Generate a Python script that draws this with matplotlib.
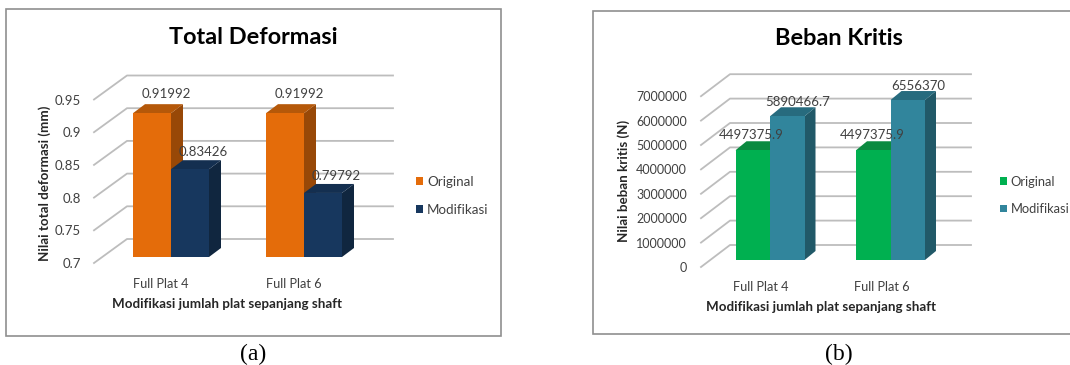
import numpy as np
import matplotlib
matplotlib.use('Agg')
import matplotlib.pyplot as plt
from matplotlib.patches import Polygon, Rectangle, Patch
from matplotlib.transforms import Affine2D

categories = ['Full Plat 4', 'Full Plat 6']
series_names = ['Original', 'Modifikasi']
x_title = 'Modifikasi jumlah plat sepanjang shaft'

deform_original = [0.91992, 0.91992]
deform_modif = [0.83426, 0.79792]
deform_ticks = [0.7, 0.75, 0.8, 0.85, 0.9, 0.95]
deform_ticklabels = ['0.7', '0.75', '0.8', '0.85', '0.9', '0.95']
deform_labels = [['0.91992', '0.91992'], ['0.83426', '0.79792']]

beban_original = [4497375.9, 4497375.9]
beban_modif = [5890466.7, 6556370]
beban_ticks = [0, 1000000, 2000000, 3000000, 4000000, 5000000, 6000000, 7000000]
beban_ticklabels = ['0', '1000000', '2000000', '3000000', '4000000', '5000000', '6000000', '7000000']
beban_labels = [['4497375.9', '4497375.9'], ['5890466.7', '6556370']]

W, H = 1070, 365
FONT = 'Lato'
TXT = '#404040'

plt.rcParams['font.family'] = FONT
fig = plt.figure(figsize=(W / 100, H / 100), dpi=100, facecolor='white')
# pixel coordinates, origin top left
px = Affine2D().scale(1 / W, -1 / H).translate(0, 1) + fig.transFigure


def draw_panel(values, ticks, ticklabels, labels, title, ylabel, colors, box, g):
    # box: frame of the chart in pixels, g: geometry of the 3d look in pixels
    fig.add_artist(Rectangle((box[0], box[1]), box[2] - box[0], box[3] - box[1], transform=px,
                             fc='white', ec='#8f8f8f', lw=1.2, zorder=-1))

    # axes sit on the front plane of the bars
    left, right, base = g['left'], g['right'], g['base']
    per_tick = g['tick_px']
    step = ticks[1] - ticks[0]
    top = base - per_tick * (len(ticks) - 1) - 30
    ax = fig.add_axes([left / W, 1 - base / H, (right - left) / W, (base - top) / H])
    ux = 1 / g['cat_px']
    uy = step / per_tick
    ax.set_xlim((left - g['x0']) * ux, (right - g['x0']) * ux)
    ax.set_ylim(ticks[0], ticks[0] + (base - top) * uy)
    ax.patch.set_visible(False)
    for s in ax.spines.values():
        s.set_visible(False)

    # gridlines: wall then the slanted floor part
    xl, xr = ax.get_xlim()
    for t in ticks:
        ax.plot([xl, xl + g['wall_dx'] * ux, xr],
                [t - g['front_dy'] * uy, t + g['wall_dy'] * uy, t + g['wall_dy'] * uy],
                color='#bdbdbd', lw=1.3, zorder=1, clip_on=False)

    x = np.arange(len(categories))
    w = g['bar_px'] * ux
    dx, dy = g['dx'] * ux, g['dy'] * uy
    for j, vals in enumerate(values):
        col = colors[j]
        bx = x + (j - 1) * w
        z = 2 + j
        ax.bar(bx, np.array(vals) - ticks[0], bottom=ticks[0], width=w, align='edge',
               color=col[0], lw=0, zorder=z + 0.5)
        for b, v, lab in zip(bx, vals, labels[j]):
            ax.add_patch(Polygon([(b + w, ticks[0]), (b + w + dx, ticks[0] + dy), (b + w + dx, v + dy), (b + w, v)],
                                 fc=col[2], ec='none', zorder=z, clip_on=False))
            ax.add_patch(Polygon([(b, v), (b + dx, v + dy), (b + w + dx, v + dy), (b + w, v)],
                                 fc=col[1], ec='none', zorder=z, clip_on=False))
            ax.annotate(lab, (b + w / 2, v), xytext=g['lab_off'][j], textcoords='offset pixels',
                        ha='center', va='center', fontsize=g['lab_fs'], color=TXT, zorder=6)

    ax.set_yticks(ticks)
    ax.set_yticklabels(ticklabels)
    ax.tick_params(axis='y', length=0, pad=g['ypad'], labelsize=g['tick_fs'], labelcolor=TXT)
    for lb in ax.get_yticklabels():
        lb.set_transform(lb.get_transform() + Affine2D().translate(0, -g['front_dy']))
    ax.set_xticks(x)
    ax.set_xticklabels(categories)
    ax.tick_params(axis='x', length=0, pad=g['xpad'], labelsize=g['cat_fs'], labelcolor=TXT)
    for lb in ax.get_xticklabels():
        lb.set_transform(lb.get_transform() + Affine2D().translate(g['xlab_dx'], 0))

    ax.set_xlabel(x_title, fontsize=g['axis_fs'], fontweight='bold', color='#262626', va='center')
    ax.xaxis.set_label_coords(g['xlabel'][0], g['xlabel'][1], transform=px)
    ax.set_ylabel(ylabel, fontsize=g['axis_fs'], fontweight='bold', color='#262626', va='center')
    ax.yaxis.set_label_coords(g['ylabel'][0], g['ylabel'][1], transform=px)
    ax.set_title(title, fontsize=g['title_fs'], fontweight='bold', color='black', va='center', pad=0,
                 x=(g['title'][0] - left) / (right - left), y=(base - g['title'][1]) / (base - top))

    handles = [Patch(fc=c[0], lw=0) for c in colors]
    fig.legend(handles, series_names, loc='center left', bbox_to_anchor=g['legend'],
               bbox_transform=px, frameon=False, fontsize=g['leg_fs'], labelcolor=TXT,
               handlelength=0.52, handleheight=0.52, handletextpad=0.3, labelspacing=1.2,
               borderpad=0, borderaxespad=0)
    return ax


orange = ('#E46C0A', '#B55809', '#984807')
navy = ('#17375E', '#142F50', '#10263F')
green = ('#00B050', '#0A8A40', '#08773A')
teal = ('#31859C', '#276B7E', '#215968')

geom_a = dict(left=94, right=393, base=257, x0=171, cat_px=133, bar_px=38, tick_px=32.7,
              wall_dx=33, wall_dy=18, front_dy=6, dx=12, dy=9, lab_off=[(14, 19), (13, 17)],
              lab_fs=9.5, tick_fs=9.5, cat_fs=9.15, axis_fs=9.6, title_fs=16.9, leg_fs=9.6,
              ypad=9.5, xpad=15, xlab_dx=-10, xlabel=(227, 304), ylabel=(45, 183), title=(253, 38),
              legend=(416, 195.5))
geom_b = dict(left=701, right=971, base=260, x0=770, cat_px=120.5, bar_px=34.5, tick_px=24.4,
              wall_dx=29, wall_dy=15, front_dy=7, dx=11, dy=9, lab_off=[(-1, 15), (10, 14)],
              lab_fs=9.5, tick_fs=9.0, cat_fs=9.15, axis_fs=9.6, title_fs=16.9, leg_fs=9.3,
              ypad=10, xpad=15, xlab_dx=-9, xlabel=(821, 307), ylabel=(624, 181), title=(839, 39),
              legend=(1000, 195.5))

draw_panel([deform_original, deform_modif], deform_ticks, deform_ticklabels, deform_labels,
           'Total Deformasi', 'Nilai total deformasi (mm)', [orange, navy], (5.5, 9, 501, 336), geom_a)
draw_panel([beban_original, beban_modif], beban_ticks, beban_ticklabels, beban_labels,
           'Beban Kritis', 'Nilai beban kritis (N)', [green, teal], (593, 10.5, 1075, 334), geom_b)

fig.text(253, 354, '(a)', transform=px, ha='center', va='center', fontsize=17, family='Liberation Serif', color='black')
fig.text(839, 354, '(b)', transform=px, ha='center', va='center', fontsize=17, family='Liberation Serif', color='black')

fig.savefig('out.png', dpi=100)
